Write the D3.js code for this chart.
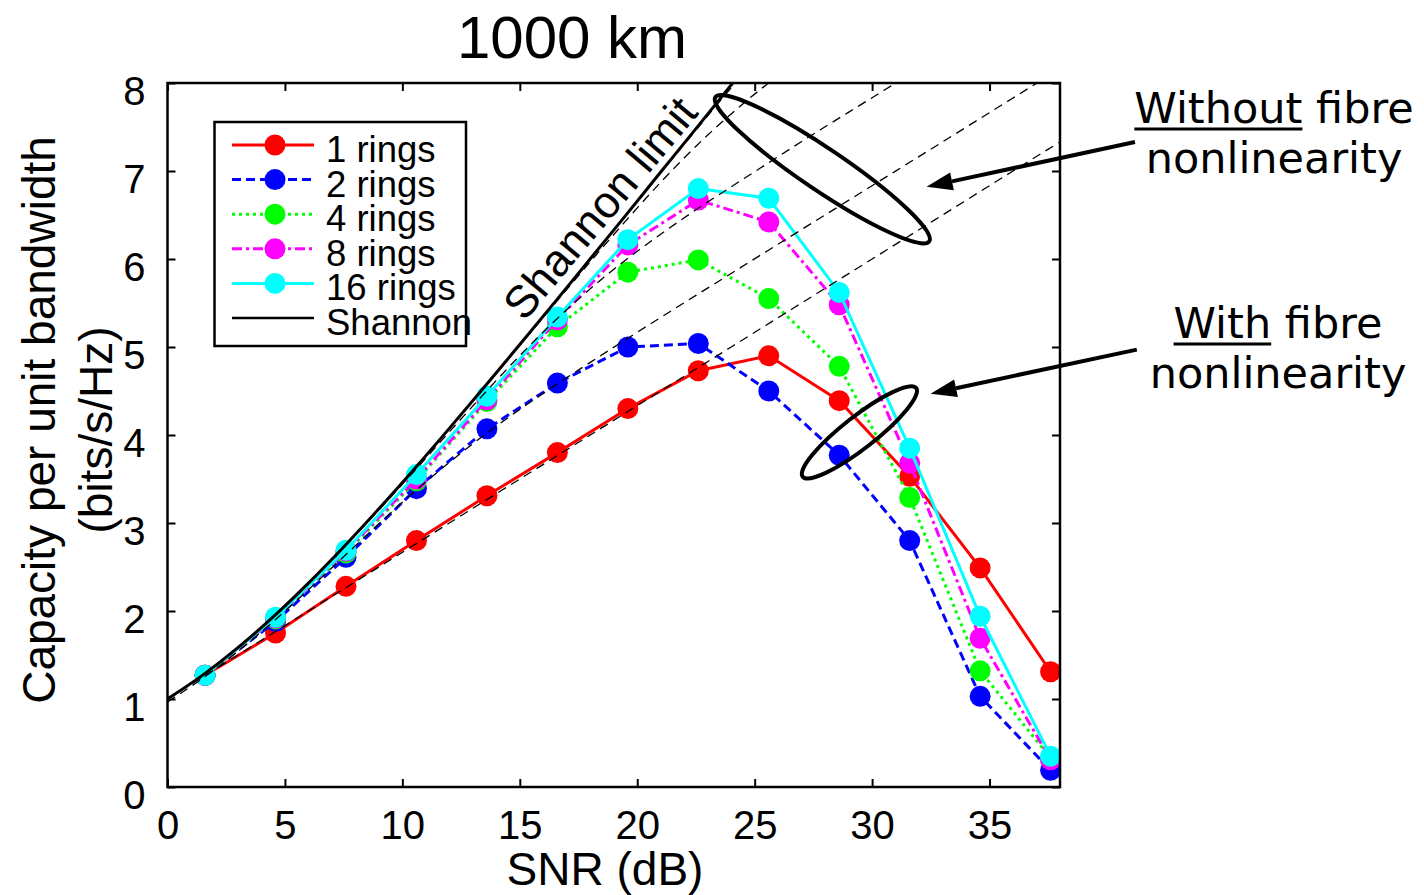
<!DOCTYPE html>
<html>
<head>
<meta charset="utf-8">
<script src="https://cdn.jsdelivr.net/npm/d3@7"></script>
<style>
  body { margin: 0; background: #fff; }
  text { font-family: "Liberation Sans", Arial, sans-serif; fill: #000; }
  .note { font-family: "DejaVu Sans", Verdana, sans-serif; }
</style>
</head>
<body>
<svg id="chart" width="1424" height="895"></svg>
<script>
// Simulated capacity per ring count, 1000 km link
const snrDb   = [1.6, 4.6, 7.6, 10.6, 13.6, 16.6, 19.6, 22.6, 25.6, 28.6, 31.6, 34.6, 37.6];
const rings1  = [1.27, 1.75, 2.28, 2.80, 3.31, 3.80, 4.30, 4.73, 4.90, 4.39, 3.53, 2.49, 1.31];
const rings2  = [1.27, 1.88, 2.61, 3.39, 4.07, 4.59, 5.00, 5.04, 4.50, 3.77, 2.80, 1.03, 0.19];
const rings4  = [1.27, 1.91, 2.66, 3.48, 4.38, 5.23, 5.85, 5.99, 5.55, 4.78, 3.29, 1.32, 0.33];
const rings8  = [1.27, 1.92, 2.68, 3.50, 4.40, 5.31, 6.16, 6.67, 6.42, 5.48, 3.68, 1.69, 0.31];
const rings16 = [1.27, 1.93, 2.69, 3.55, 4.44, 5.34, 6.22, 6.80, 6.69, 5.62, 3.85, 1.94, 0.35];

// Reference curves: Shannon limit and linear-channel (no nonlinearity) capacities
const refSnr   = [0, 1.5, 3, 4.5, 6, 7.5, 9, 10.5, 12, 13.5, 15, 16.5, 18, 19.5, 21, 22.5, 24, 25.5, 27, 30, 33, 36, 38];
const shannon  = [1.000, 1.271, 1.583, 1.933, 2.317, 2.728, 3.161, 3.611, 4.075, 4.548, 5.028, 5.513, 6.002, 6.493, 6.988, 7.482, 7.978, 8.475, 8.972, 9.967, 10.96, 11.96, 12.62];
const linear1  = [1.000, 1.250, 1.500, 1.750, 2.000, 2.250, 2.500, 2.750, 3.000, 3.250, 3.500, 3.750, 4.000, 4.250, 4.500, 4.750, 5.000, 5.250, 5.500, 6.000, 6.500, 7.000, 7.330];
const linear2  = [0.967, 1.236, 1.542, 1.879, 2.242, 2.617, 2.991, 3.352, 3.689, 4.002, 4.291, 4.564, 4.825, 5.083, 5.336, 5.587, 5.836, 6.086, 6.335, 6.833, 7.331, 7.830, 8.162];
const linear4  = [0.998, 1.270, 1.580, 1.929, 2.312, 2.720, 3.148, 3.588, 4.035, 4.475, 4.902, 5.300, 5.662, 5.987, 6.282, 6.559, 6.820, 7.078, 7.335, 7.833, 8.331, 8.830, 9.160];
const linear8  = [1.000, 1.271, 1.583, 1.933, 2.317, 2.728, 3.160, 3.610, 4.072, 4.543, 5.019, 5.495, 5.968, 6.430, 6.872, 7.281, 7.649, 7.981, 8.277, 8.830, 9.330, 9.830, 10.16];
const linear16 = [1.000, 1.271, 1.583, 1.933, 2.317, 2.728, 3.161, 3.611, 4.075, 4.548, 5.027, 5.512, 6.000, 6.489, 6.980, 7.465, 7.946, 8.414, 8.860, 9.830, 10.33, 10.83, 11.16];

const xTicks = [0, 5, 10, 15, 20, 25, 30, 35];
const yTicks = [0, 1, 2, 3, 4, 5, 6, 7, 8];
const seriesNames = ["1 rings", "2 rings", "4 rings", "8 rings", "16 rings"];

const series = [
  { name: seriesNames[0], values: rings1,  color: "#ff0000", dash: null },
  { name: seriesNames[1], values: rings2,  color: "#0000ff", dash: "9,5" },
  { name: seriesNames[2], values: rings4,  color: "#00ff00", dash: "3,4" },
  { name: seriesNames[3], values: rings8,  color: "#ff00ff", dash: "10,4,3,4" },
  { name: seriesNames[4], values: rings16, color: "#00ffff", dash: null }
];

const svg = d3.select("#chart");
const x = d3.scaleLinear().domain([0, 38]).range([167.5, 1060]);
const y = d3.scaleLinear().domain([0, 8]).range([787, 83]);

svg.append("defs").append("clipPath").attr("id", "plotClip")
  .append("rect")
  .attr("x", x(0)).attr("y", y(8))
  .attr("width", x(38) - x(0)).attr("height", y(0) - y(8));

const line = d3.line().x(d => x(d[0])).y(d => y(d[1]));
const smooth = d3.line().x(d => x(d[0])).y(d => y(d[1])).curve(d3.curveMonotoneX);

// Data series: lines then markers
const plot = svg.append("g");
series.forEach(s => {
  const pts = snrDb.map((v, i) => [v, s.values[i]]);
  plot.append("path")
    .attr("clip-path", "url(#plotClip)")
    .attr("d", line(pts))
    .attr("fill", "none")
    .attr("stroke", s.color)
    .attr("stroke-width", 3)
    .attr("stroke-dasharray", s.dash);
  plot.selectAll(null).data(pts).enter().append("circle")
    .attr("cx", d => x(d[0])).attr("cy", d => y(d[1]))
    .attr("r", 10.5)
    .attr("fill", s.color);
});

// Linear-channel reference curves (dashed)
[linear1, linear2, linear4, linear8, linear16].forEach(vals => {
  plot.append("path")
    .attr("clip-path", "url(#plotClip)")
    .attr("d", smooth(refSnr.map((v, i) => [v, vals[i]])))
    .attr("fill", "none")
    .attr("stroke", "#000")
    .attr("stroke-width", 1.3)
    .attr("stroke-dasharray", "9,6");
});

// Shannon limit
plot.append("path")
  .attr("clip-path", "url(#plotClip)")
  .attr("d", smooth(refSnr.map((v, i) => [v, shannon[i]])))
  .attr("fill", "none")
  .attr("stroke", "#000")
  .attr("stroke-width", 3);

// Axes with inward ticks on all four sides
const fontAxis = 40;
const gx = svg.append("g").attr("transform", `translate(0,${y(0)})`)
  .call(d3.axisBottom(x).tickValues(xTicks).tickSize(-8).tickPadding(24));
const gy = svg.append("g").attr("transform", `translate(${x(0)},0)`)
  .call(d3.axisLeft(y).tickValues(yTicks).tickSize(-8).tickPadding(22));
const gt = svg.append("g").attr("transform", `translate(0,${y(8)})`)
  .call(d3.axisTop(x).tickValues(xTicks).tickSize(-8).tickFormat(""));
const gr = svg.append("g").attr("transform", `translate(${x(38)},0)`)
  .call(d3.axisRight(y).tickValues(yTicks).tickSize(-8).tickFormat(""));
[gx, gy, gt, gr].forEach(g => {
  g.select(".domain").remove();
  g.selectAll(".tick line").attr("stroke", "#000").attr("stroke-width", 2);
  g.selectAll(".tick text").attr("font-size", fontAxis)
    .attr("font-family", "Liberation Sans, Arial, sans-serif").attr("fill", "#000");
});
gy.selectAll(".tick text").attr("dy", "0.53em");
svg.append("rect")
  .attr("x", x(0)).attr("y", y(8))
  .attr("width", x(38) - x(0)).attr("height", y(0) - y(8))
  .attr("fill", "none").attr("stroke", "#000").attr("stroke-width", 2.5);

// Axis titles
svg.append("text").attr("x", 605).attr("y", 885)
  .attr("text-anchor", "middle").attr("font-size", 46).text("SNR (dB)");
svg.append("text").attr("transform", "translate(55,420) rotate(-90)")
  .attr("text-anchor", "middle").attr("font-size", 46).text("Capacity per unit bandwidth");
svg.append("text").attr("transform", "translate(112,430) rotate(-90)")
  .attr("text-anchor", "middle").attr("font-size", 46).text("(bits/s/Hz)");

// Title
svg.append("text").attr("x", 572).attr("y", 58)
  .attr("text-anchor", "middle").attr("font-size", 60).text("1000 km");

// Shannon limit label along the curve
svg.append("text")
  .attr("transform", "translate(600,208) rotate(-50)")
  .attr("text-anchor", "middle").attr("dominant-baseline", "central")
  .attr("font-size", 45).text("Shannon limit");

// Legend
const legend = svg.append("g");
legend.append("rect").attr("x", 214.5).attr("y", 122).attr("width", 251.5).attr("height", 224)
  .attr("fill", "#fff").attr("stroke", "#000").attr("stroke-width", 2.5);
const legendItems = series.map(s => ({ name: s.name, color: s.color, dash: s.dash, marker: true }))
  .concat([{ name: "Shannon", color: "#000", dash: null, marker: false }]);
legendItems.forEach((it, i) => {
  const ry = 145 + i * 34.6;
  legend.append("line").attr("x1", 232).attr("x2", 314).attr("y1", ry).attr("y2", ry)
    .attr("stroke", it.color).attr("stroke-width", it.marker ? 3 : 2.5)
    .attr("stroke-dasharray", it.dash);
  if (it.marker) {
    legend.append("circle").attr("cx", 275).attr("cy", ry).attr("r", 10.5).attr("fill", it.color);
  }
  legend.append("text").attr("x", 326).attr("y", ry + 17)
    .attr("font-size", 36.5).text(it.name);
});

// Ellipses grouping the curves
const ellipses = [
  { cx: 27.88, cy: 7.02, rx: 129, ry: 21, angle: 34 },
  { cx: 29.46, cy: 4.03, rx: 72, ry: 16, angle: -38 }
];
ellipses.forEach(e => {
  svg.append("ellipse")
    .attr("transform", `translate(${x(e.cx)},${y(e.cy)}) rotate(${e.angle})`)
    .attr("rx", e.rx).attr("ry", e.ry)
    .attr("fill", "none").attr("stroke", "#000").attr("stroke-width", 4);
});

// Arrows from the notes to the ellipses
const arrows = [
  { from: [41.19, 7.33], to: [32.32, 6.82] },
  { from: [41.27, 4.97], to: [32.49, 4.47] }
];
arrows.forEach(a => {
  const x1 = x(a.from[0]), y1 = y(a.from[1]), x2 = x(a.to[0]), y2 = y(a.to[1]);
  const ang = Math.atan2(y2 - y1, x2 - x1);
  const len = 26, half = 9;
  const bx = x2 - len * Math.cos(ang), by = y2 - len * Math.sin(ang);
  svg.append("line").attr("x1", x1).attr("y1", y1).attr("x2", bx).attr("y2", by)
    .attr("stroke", "#000").attr("stroke-width", 4);
  svg.append("polygon")
    .attr("points", [
      [x2, y2],
      [bx + half * Math.sin(ang), by - half * Math.cos(ang)],
      [bx - half * Math.sin(ang), by + half * Math.cos(ang)]
    ].map(p => p.join(",")).join(" "))
    .attr("fill", "#000");
});

// Notes with underlined key word
function note(cx, y1, key, rest, y2) {
  const t = svg.append("text").attr("class", "note").attr("x", cx).attr("y", y1)
    .attr("text-anchor", "middle").attr("font-size", 43);
  t.append("tspan").text(key);
  t.append("tspan").text(rest);
  svg.append("text").attr("class", "note").attr("x", cx).attr("y", y2)
    .attr("text-anchor", "middle").attr("font-size", 43).text("nonlinearity");
  const node = t.node();
  const a = node.getExtentOfChar(0);
  const b = node.getExtentOfChar(key.length - 1);
  svg.append("line").attr("x1", a.x).attr("x2", b.x + b.width)
    .attr("y1", y1 + 6).attr("y2", y1 + 6)
    .attr("stroke", "#000").attr("stroke-width", 3);
}
note(1274, 123, "Without", " fibre", 173);
note(1278, 338, "With", " fibre", 388);
</script>
</body>
</html>
